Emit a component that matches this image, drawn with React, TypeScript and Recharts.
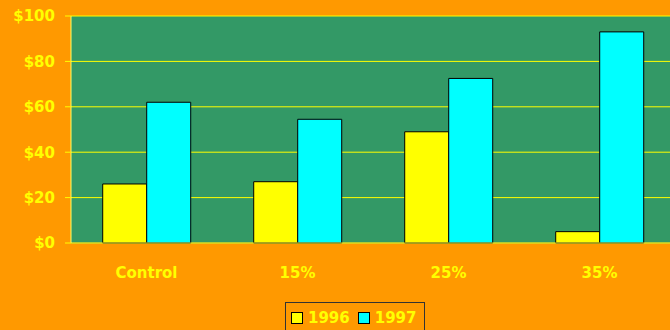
import { Bar, BarChart, CartesianGrid, Legend, XAxis, YAxis } from "recharts";

const categories = ["Control", "15%", "25%", "35%"];
const values1996 = [26, 27, 49, 5];
const values1997 = [62, 54.5, 72.5, 93];
const yTicks = [0, 20, 40, 60, 80, 100];

const data = categories.map((label, i) => ({
  label,
  y1996: values1996[i],
  y1997: values1997[i],
}));

const font = "'DejaVu Sans', Verdana, sans-serif";
const textStyle = { fill: "#ffff00", fontSize: 15, fontWeight: 700, fontFamily: font };

function LegendBox({ payload }: any) {
  return (
    <div
      style={{
        width: 138,
        height: 30,
        border: "1px solid #333333",
        display: "flex",
        alignItems: "center",
        fontFamily: font,
        fontWeight: 700,
        fontSize: 15,
        color: "#ffff00",
      }}
    >
      {(payload || []).map((p: any, i: number) => (
        <span key={p.value} style={{ display: "flex", alignItems: "center", marginLeft: i === 0 ? 5 : 8 }}>
          <span
            style={{
              width: 10,
              height: 10,
              background: p.color,
              border: "1px solid #000",
              marginRight: 5,
              display: "inline-block",
            }}
          />
          {p.value}
        </span>
      ))}
    </div>
  );
}

export default function App() {
  return (
    <div
      style={{
        position: "absolute",
        left: 0,
        top: 0,
        width: 670,
        height: 330,
        overflow: "hidden",
        background: "#ff9900",
      }}
    >
      <BarChart
        width={680}
        height={330}
        data={data}
        margin={{ top: 16, right: 5, left: 0, bottom: 47 }}
        barCategoryGap="21%"
        barGap={0}
      >
        <CartesianGrid vertical={false} stroke="#ffff00" fill="#339966" />
        <XAxis
          dataKey="label"
          height={40}
          axisLine={{ stroke: "#cccc33" }}
          tickLine={false}
          tick={textStyle}
          tickMargin={18}
        />
        <YAxis
          width={71}
          domain={[0, 100]}
          ticks={yTicks}
          tickFormatter={(v) => `$${v}`}
          axisLine={{ stroke: "#ffff66" }}
          tickLine={{ stroke: "#ffff00" }}
          tick={textStyle}
          tickMargin={10}
        />
        <Legend
          layout="horizontal"
          verticalAlign="middle"
          align="center"
          wrapperStyle={{ position: "absolute", left: 285, top: 302, width: 140 }}
          content={<LegendBox />}
        />
        <Bar dataKey="y1996" name="1996" fill="#ffff00" stroke="#000000" isAnimationActive={false} />
        <Bar dataKey="y1997" name="1997" fill="#00ffff" stroke="#000000" isAnimationActive={false} />
      </BarChart>
    </div>
  );
}
